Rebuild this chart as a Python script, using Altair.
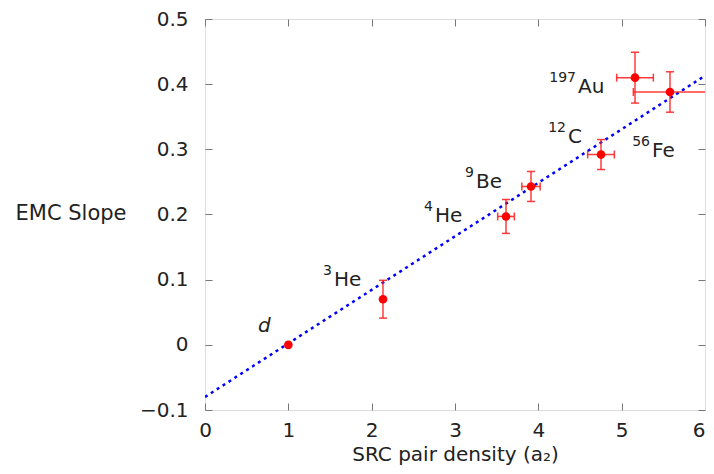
import altair as alt
import pandas as pd

# ---- data ----
nuclei_sup = ["", "3", "4", "9", "12", "197", "56"]
nuclei_sym = ["d", "He", "He", "Be", "C", "Au", "Fe"]
a2 = [1.0, 2.136, 3.612, 3.912, 4.752, 5.16, 5.58]
a2_err = [0.0, 0.0, 0.10, 0.11, 0.16, 0.22, 0.44]
emc_slope = [0.0, 0.070, 0.197, 0.243, 0.292, 0.410, 0.388]
emc_err = [0.0, 0.029, 0.026, 0.023, 0.023, 0.039, 0.031]
label_x = [0.636, 1.536, 2.748, 3.24, 4.344, 4.464, 5.352]
label_y = [0.019, 0.090, 0.188, 0.240, 0.309, 0.387, 0.289]
fit_x = [0.0, 6.0]
fit_y = [-0.080, 0.413]
x_ticks = [0, 1, 2, 3, 4, 5, 6]
y_ticks = [-0.1, 0.0, 0.1, 0.2, 0.3, 0.4, 0.5]

FONT = "DejaVu Sans"
TXT = "#222222"

df = pd.DataFrame({
    "sup": nuclei_sup, "sym": nuclei_sym,
    "a2": a2, "a2_err": a2_err, "slope": emc_slope, "err": emc_err,
    "lx": label_x, "ly": label_y,
})
df["y_lo"] = df["slope"] - df["err"]
df["y_hi"] = df["slope"] + df["err"]
df["x_lo"] = df["a2"] - df["a2_err"]
df["x_hi"] = df["a2"] + df["a2_err"]

vbars = df[df["err"] > 0]
hbars = df[df["a2_err"] > 0]
vcaps = pd.concat([
    pd.DataFrame({"x": vbars["a2"], "y": vbars["y_lo"]}),
    pd.DataFrame({"x": vbars["a2"], "y": vbars["y_hi"]}),
])
hcaps = pd.concat([
    pd.DataFrame({"x": hbars["x_lo"], "y": hbars["slope"]}),
    pd.DataFrame({"x": hbars["x_hi"], "y": hbars["slope"]}),
])
fit_df = pd.DataFrame({"x": fit_x, "y": fit_y})

xs = alt.Scale(domain=[0, 6], nice=False, zero=False)
ys = alt.Scale(domain=[-0.1, 0.5], nice=False, zero=False)

tick_common = dict(tickSize=7, tickColor="#777777", tickWidth=1, domain=False, grid=False,
                   labelFlush=False)

x_bottom = alt.Axis(orient="bottom", offset=-7, values=x_ticks[:-1], format="d",
                    labelFont=FONT, labelFontSize=20, labelColor=TXT, labelPadding=10,
                    title="SRC pair density (a₂)", titleFont=FONT, titleFontSize=20,
                    titleFontWeight="normal", titleColor=TXT, titleBaseline="alphabetic",
                    titleY=57, **tick_common)
# last x label kept inside the page: right-aligned at the frame edge
x_bottom_last = alt.Axis(orient="bottom", offset=-7, values=x_ticks[-1:], format="d",
                         labelFont=FONT, labelFontSize=20, labelColor=TXT, labelPadding=17,
                         labelFlush=True, ticks=False, domain=False, grid=False, title="")
y_left = alt.Axis(orient="left", offset=-7, values=y_ticks, format=".1~f",
                  labelFont=FONT, labelFontSize=20, labelColor=TXT, labelPadding=17,
                  title="EMC Slope", titleFont=FONT, titleFontSize=21,
                  titleFontWeight="normal", titleColor=TXT, titleAngle=0,
                  titleAlign="right", titleBaseline="middle", titleX=-86, titleY=194,
                  **tick_common)
x_top = alt.Axis(orient="top", offset=-7, values=x_ticks, labels=False, title="", **tick_common)
y_right = alt.Axis(orient="right", offset=-7, values=y_ticks, labels=False, title="", **tick_common)

fit = alt.Chart(fit_df).mark_line(color="#0000ff", strokeWidth=2.5, strokeDash=[3, 4], clip=True).encode(
    x=alt.X("x:Q", scale=xs, axis=x_top),
    y=alt.Y("y:Q", scale=ys, axis=y_right),
)

err_color = "#ff1a1a"
vrule = alt.Chart(vbars).mark_rule(color=err_color, strokeWidth=1.5, opacity=0.85, clip=True).encode(
    x=alt.X("a2:Q", scale=xs, axis=x_bottom_last),
    y=alt.Y("y_lo:Q", scale=ys, axis=None),
    y2="y_hi:Q",
)
hrule = alt.Chart(hbars).mark_rule(color=err_color, strokeWidth=1.5, opacity=0.85, clip=True).encode(
    x=alt.X("x_lo:Q", scale=xs, axis=None),
    x2="x_hi:Q",
    y=alt.Y("slope:Q", scale=ys, axis=None),
)
vcap = alt.Chart(vcaps).mark_tick(color=err_color, orient="horizontal", size=8, thickness=1.5,
                                  opacity=0.85, clip=True).encode(
    x=alt.X("x:Q", scale=xs, axis=None),
    y=alt.Y("y:Q", scale=ys, axis=None),
)
hcap = alt.Chart(hcaps).mark_tick(color=err_color, orient="vertical", size=8, thickness=1.5,
                                  opacity=0.85, clip=True).encode(
    x=alt.X("x:Q", scale=xs, axis=None),
    y=alt.Y("y:Q", scale=ys, axis=None),
)

points = alt.Chart(df).mark_circle(color="#ff0000", size=75, opacity=1).encode(
    x=alt.X("a2:Q", scale=xs, axis=x_bottom),
    y=alt.Y("slope:Q", scale=ys, axis=y_left),
)

sup_txt = alt.Chart(df[df["sup"] != ""]).mark_text(
    font=FONT, fontSize=14, color=TXT, align="right", baseline="alphabetic", dx=-1, dy=-11
).encode(
    x=alt.X("lx:Q", scale=xs, axis=None),
    y=alt.Y("ly:Q", scale=ys, axis=None),
    text="sup:N",
)
sym_txt = alt.Chart(df[df["sym"] != "d"]).mark_text(
    font=FONT, fontSize=20, color=TXT, align="left", baseline="alphabetic", dx=1
).encode(
    x=alt.X("lx:Q", scale=xs, axis=None),
    y=alt.Y("ly:Q", scale=ys, axis=None),
    text="sym:N",
)
d_txt = alt.Chart(df[df["sym"] == "d"]).mark_text(
    font=FONT, fontSize=20, fontStyle="italic", color=TXT, align="left", baseline="alphabetic"
).encode(
    x=alt.X("lx:Q", scale=xs, axis=None),
    y=alt.Y("ly:Q", scale=ys, axis=None),
    text="sym:N",
)

chart = alt.layer(fit, vrule, hrule, vcap, hcap, points, sup_txt, sym_txt, d_txt).resolve_axis(
    x="independent", y="independent"
).properties(
    width=500, height=391,
    autosize=alt.AutoSizeParams(type="none"),
    padding={"left": 197, "top": 11, "right": 1, "bottom": 56},
).configure_view(stroke="black", strokeWidth=1.5).configure(background="white")

chart.save("out.html", embed_options={"renderer": "svg", "actions": False})
